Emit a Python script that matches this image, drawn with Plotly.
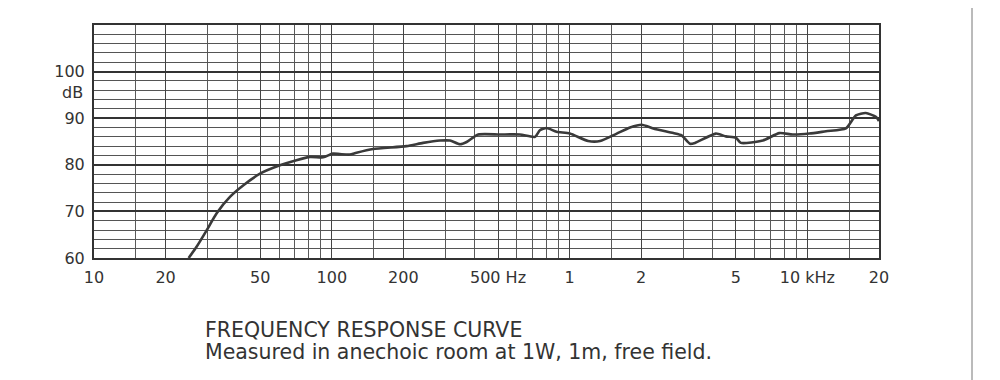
import plotly.graph_objects as go

# Frequency response data (Hz, dB)
freq_hz = [25, 27, 29.5, 32.8, 37.3, 42.5, 49.9, 60.5, 71, 81, 92, 101, 108, 119, 127,
           149, 206, 242, 285, 314, 346, 369, 413, 509, 618, 715, 750, 800, 881, 1002,
           1197, 1343, 1578, 1795, 2010, 2249, 2731, 2960, 3208, 3369, 4118, 4541, 5004,
           5252, 6486, 7620, 8670, 10190, 11970, 14520, 16000, 17600, 19400, 20000]
level_db = [60.0, 62.4, 65.6, 69.6, 73.1, 75.6, 78.1, 79.9, 81.0, 81.7, 81.6, 82.4, 82.3, 82.2, 82.6,
            83.4, 84.0, 84.7, 85.2, 85.2, 84.4, 84.9, 86.5, 86.5, 86.5, 86.0, 87.4, 87.9, 87.1, 86.7,
            85.1, 85.1, 86.7, 88.0, 88.6, 87.8, 86.8, 86.3, 84.5, 84.7, 86.7, 86.1, 85.8,
            84.7, 85.2, 86.8, 86.5, 86.7, 87.2, 87.8, 90.6, 91.1, 90.3, 89.4]

# Axis ticks
x_major = [10, 20, 50, 100, 200, 500, 1000, 2000, 5000, 10000, 20000]
x_labels = ["10", "20", "50", "100", "200", "500 Hz", "1", "2", "5", "10 kHz", "20"]
x_minor = [15, 30, 40, 60, 70, 80, 90, 150, 300, 400, 600, 700, 800, 900,
           1500, 3000, 4000, 6000, 7000, 8000, 9000, 15000]
y_major = [60, 70, 80, 90, 100]
y_labels = ["60", "70", "80", "90", "100"]

title_line1 = "FREQUENCY RESPONSE CURVE"
title_line2 = "Measured in anechoic room at 1W, 1m, free field."

FONT = "DejaVu Sans"
INK = "#333"

# plot area in page pixels (page body has an 8px margin)
PL, PR, PT, PB = 94, 879, 25, 258
OFF = 8
PW, PH = PR - PL, PB - PT


def px(x):
    return (x - PL) / PW


def py(y):
    return (PB - y) / PH


fig = go.Figure()
fig.add_trace(go.Scatter(
    x=freq_hz, y=level_db, mode="lines",
    line=dict(color="#3a3a3a", width=2.6, shape="spline", smoothing=0.6),
    hoverinfo="skip", showlegend=False,
))

fig.update_layout(
    width=1000, height=380,
    margin=dict(l=PL - OFF, r=1000 - (PR - OFF), t=PT - OFF, b=380 - (PB - OFF)),
    paper_bgcolor="white", plot_bgcolor="white",
    font=dict(family=FONT, size=16, color=INK),
    xaxis=dict(
        type="log", range=[1, 4.30103],
        tickmode="array", tickvals=x_major, ticktext=x_labels,
        showgrid=True, gridcolor="#444", gridwidth=1.4,
        minor=dict(tickmode="array", tickvals=x_minor, showgrid=True,
                   gridcolor="#5a5a5a", gridwidth=1),
        showline=True, linecolor="#333", linewidth=2, mirror=True,
        ticks="", zeroline=False, ticklabelstandoff=4,
    ),
    yaxis=dict(
        range=[60, 110],
        tickmode="array", tickvals=y_major, ticktext=y_labels,
        showgrid=True, gridcolor="#333", gridwidth=2.2,
        minor=dict(dtick=2, showgrid=True, gridcolor="#555", gridwidth=1),
        showline=True, linecolor="#333", linewidth=2, mirror=True,
        ticks="", zeroline=False, ticklabelstandoff=4,
    ),
)

fig.add_annotation(x=0, xref="paper", y=95.6, yref="y", text="dB", showarrow=False,
                   xanchor="right", xshift=-9, font=dict(family=FONT, size=16, color=INK))

fig.add_annotation(
    x=px(203), xref="paper", y=py(330), yref="paper", text=title_line1,
    showarrow=False, xanchor="left", yanchor="middle",
    font=dict(family=FONT, size=20.5, color=INK),
)
fig.add_annotation(
    x=px(203), xref="paper", y=py(352), yref="paper", text=title_line2,
    showarrow=False, xanchor="left", yanchor="middle",
    font=dict(family=FONT, size=20.5, color=INK),
)

# page border line on the right of the scan
fig.add_shape(type="line", xref="paper", yref="paper",
              x0=px(972), x1=px(972), y0=py(380), y1=py(0),
              line=dict(color="#777", width=1))

fig.write_html("out.html")
